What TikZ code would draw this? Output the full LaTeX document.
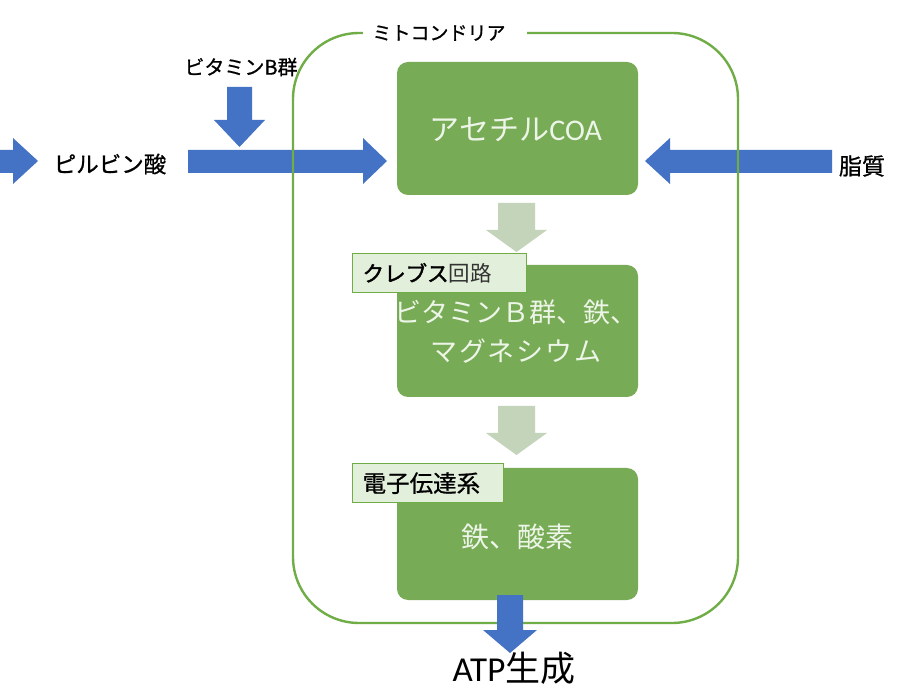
\documentclass[tikz,border=0pt]{standalone}
\usepackage{fontspec}
\setmainfont{Carlito}
\newfontfamily\jp{Noto Sans CJK JP}
\newfontfamily\jpb[FakeBold=0.8]{Noto Sans CJK JP}
\newfontfamily\jpbb[FakeBold=1.8]{Noto Sans CJK JP}
\definecolor{mgreen}{HTML}{70AD47}
\definecolor{bgreen}{HTML}{78AB55}
\definecolor{lgreen}{HTML}{E2EFDA}
\definecolor{txtw}{HTML}{EDF5E8}
\definecolor{ablue}{HTML}{4472C4}
\definecolor{agrey}{HTML}{C3D4BA}
\definecolor{tgrey}{HTML}{333333}
\newcommand{\fs}[1]{\fontsize{#1}{#1}\selectfont}
\begin{document}
\begin{tikzpicture}[x=1pt,y=-1pt,
  greenbox/.style={fill=bgreen, rounded corners=11pt, minimum width=241pt, minimum height=133pt, inner sep=0pt},
  tagbox/.style={fill=lgreen, draw=mgreen, line width=1.3pt, minimum height=39pt, inner xsep=10pt, inner ysep=0pt, align=left},
  boxtext/.style={text=txtw, align=center, inner sep=0pt},
  plain/.style={text=black, inner sep=0pt}]
\useasboundingbox (0,0) rectangle (900,700);
\fill[white] (0,0) rectangle (900,700);

% blue side arrows
\fill[ablue] (-5,150) -- (13,150) -- (13,138) -- (38,161) -- (13,184) -- (13,173) -- (-5,173) -- cycle;
\fill[ablue] (188,150) -- (363,150) -- (363,138) -- (387,161) -- (363,184) -- (363,173) -- (188,173) -- cycle;
\fill[ablue] (832,150) -- (670,150) -- (670,138) -- (645,161) -- (670,184) -- (670,173) -- (832,173) -- cycle;
\fill[ablue] (227,87) -- (252,87) -- (252,120) -- (265,120) -- (239.5,147) -- (214,120) -- (227,120) -- cycle;

% mitochondrion
\node[draw=mgreen, line width=2.4pt, rounded corners=66pt, minimum width=445pt, minimum height=590pt, inner sep=0pt] (mito) at (515.5,328) {};
\fill[white] (363,26) rectangle (527,40);
\node[plain] (mtitle) at (439,33) {\jpb\fs{19}ミトコンドリア};

% labels outside
\node[plain] (vitb) at (241,67) {\jpb\fs{20}ビタミンB群};
\node[plain] (pyr) at (110,164) {\jpb\fs{22.5}ピルビン酸};
\node[plain] (lip) at (862,166) {\jpb\fs{23}脂質};

% boxes
\node[greenbox] (acoa) at (517.5,128.5) {};
\node[boxtext] at (516,130) {\jp\fs{30}アセチル\rmfamily\fs{30}COA};
\node[greenbox, minimum height=132pt] (krebs) at (517.5,331) {};
\node[boxtext] at (516,332) {\jp\fs{27}ビタミンＢ群、鉄、\\[13pt]\jp\fs{27}マ\kern2ptグ\kern2ptネ\kern2ptシ\kern2ptウ\kern2ptム};
\node[greenbox, minimum height=132pt] (etc) at (517.5,534) {};
\node[boxtext] at (517,537) {\jp\fs{28}鉄、酸素};

% tags
\node[tagbox, text width=154pt, anchor=north west] (ktag) at (352,253) {\jpbb\fs{21.5}クレブス\jp\color{tgrey}回路};
\node[tagbox, text width=131pt, anchor=north west] (etag) at (352,463) {\jpb\fs{23.5}電子伝達系};

% grey arrows
\fill[agrey] (498,203) -- (535,203) -- (535,230) -- (547,230) -- (516.5,252) -- (486,230) -- (498,230) -- cycle;
\fill[agrey] (498,406) -- (535,406) -- (535,433) -- (547,433) -- (516.5,455) -- (486,433) -- (498,433) -- cycle;

% ATP arrow
\fill[ablue] (497,595) -- (523,595) -- (523,630) -- (537,630) -- (510,653) -- (483,630) -- (497,630) -- cycle;
\node[plain] (atp) at (514,668) {\fs{35}ATP\jp\fs{35}生成};
\end{tikzpicture}
\end{document}
